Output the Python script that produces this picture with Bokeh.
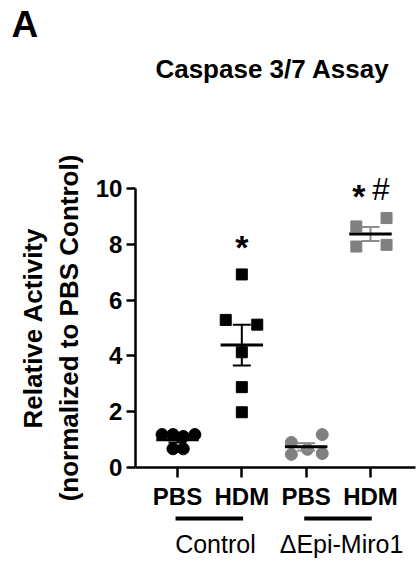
import numpy as np
from bokeh.plotting import figure
from bokeh.models import FixedTicker, LinearAxis, Label, Range1d, ColumnDataSource
from bokeh.core.properties import value
from bokeh.embed import file_html
from bokeh.resources import INLINE

# ---- data ----
tick_labels = ["PBS", "HDM", "PBS", "HDM"]
group_labels = ["Control", "\u0394Epi-Miro1"]
pbs_ctrl = [1.18, 1.18, 1.11, 1.18, 0.67, 0.67]
hdm_ctrl = [6.92, 5.29, 5.12, 4.13, 2.88, 1.98]
pbs_miro = [0.90, 1.18, 0.47, 0.65, 0.50]
hdm_miro = [8.64, 8.94, 7.92, 7.98]
# horizontal scatter offsets (category units) as drawn in the reference
pbs_ctrl_dx = [-0.24, -0.07, 0.09, 0.27, -0.07, 0.09]
hdm_ctrl_dx = [0.0, -0.25, 0.24, 0.0, 0.0, 0.0]
pbs_miro_dx = [-0.23, 0.25, -0.23, 0.02, 0.25]
hdm_miro_dx = [-0.22, 0.25, -0.22, 0.25]
star_group = [2, 4]
star_dx = [0.0, -0.18]
star_y = [7.92, 9.74]
hash_group = [4]
hash_dx = [0.16]
hash_y = [9.98]

groups = [pbs_ctrl, hdm_ctrl, pbs_miro, hdm_miro]
offsets = [pbs_ctrl_dx, hdm_ctrl_dx, pbs_miro_dx, hdm_miro_dx]
positions = [1, 2, 3, 4]
BLACK = "#000000"
GRAY = "#808080"
LGRAY = "#8c8c8c"
colors = [BLACK, BLACK, GRAY, GRAY]
err_colors = [BLACK, BLACK, LGRAY, LGRAY]
markers = ["circle", "square", "circle", "square"]
sizes = [12, 11, 12, 11]
FONT = "Liberation Sans"

X0 = 0.347   # where the y axis sits
X1 = 4.70    # right end of the x axis

p = figure(width=419, height=563,
           x_range=Range1d(-1.751, 4.762), y_range=Range1d(-3.441, 16.738),
           output_backend="svg", toolbar_location=None,
           x_axis_location=None, y_axis_location=None,
           min_border_left=0, min_border_right=0,
           min_border_top=0, min_border_bottom=0)
p.outline_line_color = None
p.grid.visible = False
p.background_fill_color = "white"
p.border_fill_color = "white"

# axes
yaxis = LinearAxis(fixed_location=X0, bounds=(0, 10),
                   ticker=FixedTicker(ticks=[0, 2, 4, 6, 8, 10]),
                   axis_label="Relative Activity\n(normalized to PBS Control)")
yaxis.axis_line_width = 2.5
yaxis.major_tick_line_width = 2.5
yaxis.major_tick_out = 9
yaxis.major_tick_in = 0
yaxis.minor_tick_line_color = None
yaxis.major_label_text_font = FONT
yaxis.major_label_text_font_size = "24px"
yaxis.major_label_text_font_style = "bold"
yaxis.major_label_text_color = BLACK
yaxis.major_label_standoff = 4
yaxis.axis_label_text_font = FONT
yaxis.axis_label_text_font_size = "26px"
yaxis.axis_label_text_font_style = "bold"
yaxis.axis_label_text_color = BLACK
yaxis.axis_label_standoff = 9
p.add_layout(yaxis, "left")

xaxis = LinearAxis(fixed_location=0, bounds=(X0, X1), ticker=FixedTicker(ticks=positions),
                   major_label_overrides={pos: lab for pos, lab in zip(positions, tick_labels)})
xaxis.axis_line_width = 2.5
xaxis.major_tick_line_width = 2.5
xaxis.major_tick_out = 10
xaxis.major_tick_in = 0
xaxis.minor_tick_line_color = None
xaxis.major_label_text_font = FONT
xaxis.major_label_text_font_size = "24px"
xaxis.major_label_text_font_style = "bold"
xaxis.major_label_text_color = BLACK
xaxis.major_label_standoff = 6
p.add_layout(xaxis, "below")

# points
for pos, vals, dx, col, mk, sz in zip(positions, groups, offsets, colors, markers, sizes):
    src = ColumnDataSource(dict(x=[pos + d for d in dx], y=vals))
    p.scatter("x", "y", source=src, marker=mk, size=sz, fill_color=col, line_color=col)

# mean and SEM
means = [float(np.mean(v)) for v in groups]
sems = [float(np.std(v, ddof=1) / np.sqrt(len(v))) for v in groups]
half_mean = 0.33
half_cap = 0.14
p.segment(x0=[x - half_cap for x in positions], x1=[x + half_cap for x in positions],
          y0=[m + s for m, s in zip(means, sems)], y1=[m + s for m, s in zip(means, sems)],
          line_color=err_colors, line_width=2)
p.segment(x0=[x - half_cap for x in positions], x1=[x + half_cap for x in positions],
          y0=[m - s for m, s in zip(means, sems)], y1=[m - s for m, s in zip(means, sems)],
          line_color=err_colors, line_width=2)
p.segment(x0=positions, x1=positions,
          y0=[m - s for m, s in zip(means, sems)], y1=[m + s for m, s in zip(means, sems)],
          line_color=err_colors, line_width=2)
p.segment(x0=[x - half_mean for x in positions], x1=[x + half_mean for x in positions],
          y0=means, y1=means, line_color=BLACK, line_width=3)

# significance marks
p.text(x=[g + d for g, d in zip(star_group, star_dx)], y=star_y, text=["*"] * len(star_group),
       text_font=value(FONT), text_font_size="34px", text_align="center",
       text_baseline="alphabetic", text_color=BLACK, text_font_style="bold")
p.text(x=[g + d for g, d in zip(hash_group, hash_dx)], y=hash_y, text=["#"] * len(hash_group),
       text_font=value(FONT), text_font_size="31px", text_align="center",
       text_baseline="alphabetic", text_color=BLACK, text_font_style="normal")

# group underlines and labels
p.segment(x0=[0.97, 2.97], x1=[2.02, 4.02], y0=[-1.83, -1.83], y1=[-1.83, -1.83],
          line_color=BLACK, line_width=4)
for cx, lab in zip([1.59, 3.55], group_labels):
    p.add_layout(Label(x=cx, y=-2.73, text=lab, text_font=FONT, text_font_size="25px",
                       text_align="center", text_baseline="alphabetic", text_color=BLACK))

# panel letter and title
p.add_layout(Label(x=-1.58, y=15.88, text="A", text_font=FONT, text_font_size="37px",
                   text_font_style="bold", text_align="left", text_baseline="alphabetic",
                   text_color=BLACK))
p.add_layout(Label(x=2.477, y=14.3, text="Caspase 3/7 Assay", text_font=FONT,
                   text_font_size="26px", text_font_style="bold", text_align="center",
                   text_baseline="alphabetic", text_color=BLACK))

open("out.html", "w").write(file_html(p, INLINE))
